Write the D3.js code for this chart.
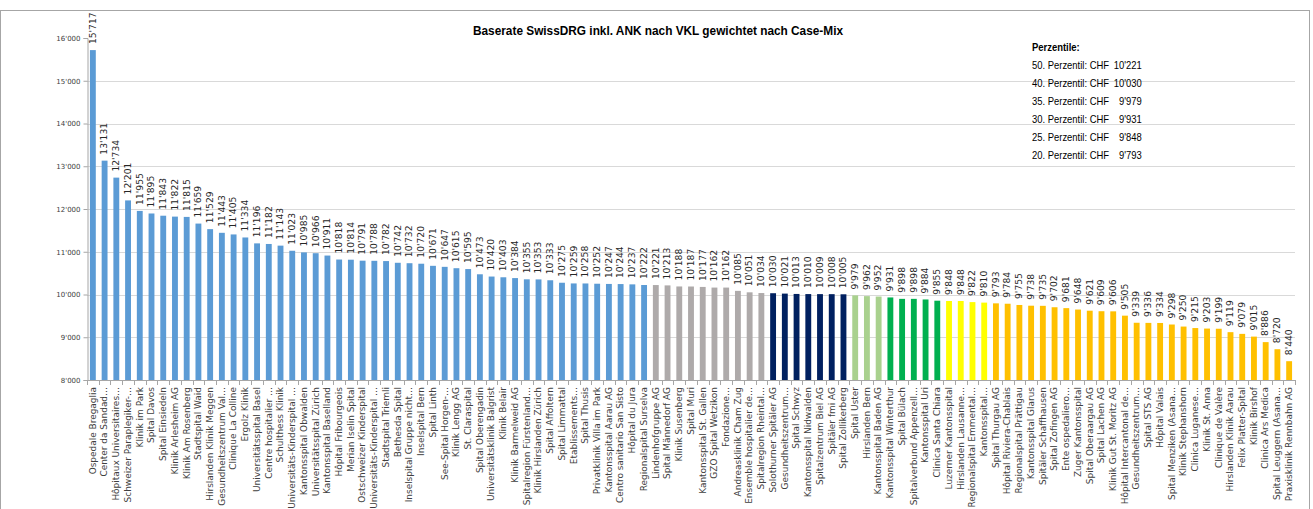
<!DOCTYPE html>
<html>
<head>
  <meta charset="utf-8">
  <script src="https://d3js.org/d3.v7.min.js"></script>
  <style>
    body { margin: 0; background: #fff; }
  </style>
</head>
<body>
  <div id="my_dataviz"></div>
  <script>

    // hospitals in chart order (labels as truncated in the original)
    var hospitals = [
      "Ospedale Bregaglia", "Center da Sandad…", "Hôpitaux Universitaires…", "Schweizer Paraplegiker-…",
      "Klinik im Park", "Spital Davos", "Spital Einsiedeln", "Klinik Arlesheim AG", "Klinik Am Rosenberg",
      "Stadtspital Waid", "Hirslanden Klinik Meggen", "Gesundheitszentrum Val…", "Clinique La Colline",
      "Ergolz Klinik", "Universitätsspital Basel", "Centre hospitalier …", "Schulthess Klinik",
      "Universitäts-Kinderspital …", "Kantonsspital Obwalden", "Universitätsspital Zürich",
      "Kantonsspital Baselland", "Hôpital Fribourgeois", "Merian Iselin Spital", "Ostschweizer Kinderspital",
      "Universitäts-Kinderspital …", "Stadtspital Triemli", "Bethesda Spital", "Inselspital Gruppe nicht…",
      "Inselspital Bern", "Spital Linth", "See-Spital Horgen-…", "Klinik Lengg AG", "St. Claraspital",
      "Spital Oberengadin", "Universitätsklinik Balgrist", "Klinik Belair", "Klinik Barmelweid AG",
      "Spitalregion Fürstenland…", "Klinik Hirslanden Zürich", "Spital Affoltern", "Spital Limmattal",
      "Etablissements…", "Spital Thusis", "Privatklinik Villa im Park", "Kantonsspital Aarau AG",
      "Centro sanitario San Sisto", "Hôpital du Jura", "Regionalspital Surselva", "Lindenhofgruppe AG",
      "Spital Männedorf AG", "Klinik Susenberg", "Spital Muri", "Kantonsspital St. Gallen",
      "GZO Spital Wetzikon", "Fondazione…", "Andreasklinik Cham Zug", "Ensemble hospitalier de…",
      "Spitalregion Rheintal…", "Solothurner Spitäler AG", "Gesundheitszentrum…", "Spital Schwyz",
      "Kantonsspital Nidwalden", "Spitalzentrum Biel AG", "Spitäler fmi AG", "Spital Zollikerberg",
      "Spital Uster", "Hirslanden Bern", "Kantonsspital Baden AG", "Kantonsspital Winterthur",
      "Spital Bülach", "Spitalverbund Appenzell…", "Kantonsspital Uri", "Clinica Santa Chiara",
      "Luzerner Kantonsspital", "Hirslanden Lausanne…", "Regionalspital Emmental…", "Kantonsspital…",
      "Spital Thurgau AG", "Hôpital Riviera-Chablais", "Regionalspital Prättigau", "Kantonsspital Glarus",
      "Spitäler Schaffhausen", "Spital Zofingen AG", "Ente ospedaliero…", "Zuger Kantonsspital",
      "Spital Oberaargau AG", "Spital Lachen AG", "Klinik Gut St. Moritz AG", "Hôpital Intercantonal de…",
      "Gesundheitszentrum…", "Spital STS AG", "Hôpital Valais", "Spital Menziken (Asana…",
      "Klinik Stephanshorn", "Clinica Luganese…", "Klinik St. Anna", "Clinique de Valère",
      "Hirslanden Klinik Aarau", "Felix Platter-Spital", "Klinik Birshof", "Clinica Ars Medica",
      "Spital Leuggern (Asana…", "Praxisklinik Rennbahn AG"
    ];

    // baserate per hospital (CHF)
    var baserates = [
      15717, 13131, 12734, 12201, 11955, 11895, 11843, 11822, 11815,
      11659, 11529, 11443, 11405, 11334, 11196, 11182, 11143, 11023,
      10985, 10966, 10911, 10818, 10814, 10791, 10788, 10782, 10742, 10732,
      10720, 10671, 10647, 10615, 10595, 10473, 10420, 10403, 10384,
      10355, 10353, 10333, 10275, 10259, 10258, 10252, 10247, 10244, 10237, 10222,
      10221, 10213, 10188, 10187, 10177, 10162, 10162, 10085, 10051, 10034,
      10030, 10021, 10013, 10010, 10009, 10008, 10005,
      9979, 9962, 9952,
      9931, 9898, 9898, 9884, 9855,
      9848, 9848, 9822, 9810,
      9793, 9784, 9755, 9738, 9735, 9702, 9681, 9648, 9621, 9609, 9606, 9505,
      9339, 9336, 9334, 9298, 9250, 9215, 9203, 9199, 9119, 9079, 9015, 8886, 8720, 8440
    ];

    // percentiles shown in the box (and used for bar colours)
    var percentileNames = ["50. Perzentil", "40. Perzentil", "35. Perzentil", "30. Perzentil", "25. Perzentil", "20. Perzentil"];
    var percentileValues = [10221, 10030, 9979, 9931, 9848, 9793];

    var yTicks = [8000, 9000, 10000, 11000, 12000, 13000, 14000, 15000, 16000];

    // one colour per percentile band, from above 50th down to below 20th
    var bandColors = ["#5B9BD5", "#AEAAAA", "#002060", "#A9D18E", "#00B050", "#FFFF00", "#FFC000"];

    function band(v) {
      var i = 0;
      while (i < percentileValues.length && v <= percentileValues[i]) i++;
      return i;
    }

    var fmt = d3.formatLocale({ decimal: ".", thousands: "'", grouping: [3], currency: ["", ""] }).format(",d");

    var W = 1313, H = 509;
    var plotLeft = 87, plotRight = 1295, plotTop = 38, plotBottom = 380;

    var svg = d3.select("#my_dataviz")
      .append("svg")
      .attr("width", W)
      .attr("height", H);

    // chart frame
    svg.append("rect")
      .attr("x", 0.5).attr("y", 10.5)
      .attr("width", 1309).attr("height", 520)
      .attr("fill", "none")
      .attr("stroke", "#A6A6A6");

    var idx = d3.range(hospitals.length);

    var x = d3.scaleBand()
      .domain(idx)
      .range([plotLeft, plotRight])
      .paddingInner(0.5)
      .paddingOuter(0.25);

    var y = d3.scaleLinear()
      .domain([8000, 16000])
      .range([plotBottom, plotTop]);

    // gridlines
    svg.append("g")
      .selectAll("line")
      .data(yTicks.filter(function (t) { return t > 8000 && t < 16000; }))
      .enter()
      .append("line")
      .attr("x1", plotLeft).attr("x2", plotRight)
      .attr("y1", function (d) { return Math.round(y(d)) + 0.5; })
      .attr("y2", function (d) { return Math.round(y(d)) + 0.5; })
      .attr("stroke", "#D9D9D9");

    // Y axis
    var yAxis = svg.append("g")
      .attr("transform", "translate(" + (plotLeft + 0.5) + ",0)")
      .call(d3.axisLeft(y).tickValues(yTicks).tickFormat(fmt).tickSize(4).tickPadding(3));
    yAxis.select(".domain").attr("stroke", "#A6A6A6");
    yAxis.selectAll(".tick line").attr("stroke", "#A6A6A6");
    yAxis.selectAll("text")
      .style("font-family", "DejaVu Sans, sans-serif")
      .style("font-size", "7px")
      .attr("fill", "#404040");

    // bars
    svg.append("g")
      .selectAll("rect")
      .data(idx)
      .enter()
      .append("rect")
      .attr("x", function (i) { return x(i); })
      .attr("width", x.bandwidth())
      .attr("y", function (i) { return y(baserates[i]); })
      .attr("height", function (i) { return y(8000) - y(baserates[i]); })
      .attr("fill", function (i) { return bandColors[band(baserates[i])]; });

    // X axis line and category separators
    svg.append("line")
      .attr("x1", plotLeft).attr("x2", plotRight)
      .attr("y1", plotBottom + 0.5).attr("y2", plotBottom + 0.5)
      .attr("stroke", "#A6A6A6");
    svg.append("g")
      .selectAll("line")
      .data(idx.concat([hospitals.length]))
      .enter()
      .append("line")
      .attr("x1", function (i) { return Math.round(plotLeft + i * x.step()) + 0.5; })
      .attr("x2", function (i) { return Math.round(plotLeft + i * x.step()) + 0.5; })
      .attr("y1", plotBottom).attr("y2", plotBottom + 5)
      .attr("stroke", "#A6A6A6");

    // value labels above the bars
    svg.append("g")
      .selectAll("text")
      .data(idx)
      .enter()
      .append("text")
      .attr("transform", function (i) {
        return "translate(" + (x(i) + x.bandwidth() / 2) + "," + (y(baserates[i]) - 6) + ") rotate(-90) scale(1.15,1)";
      })
      .attr("dy", "0.35em")
      .style("font-family", "DejaVu Sans, sans-serif")
      .style("font-size", "8px")
      .attr("fill", "#262626")
      .text(function (i) { return fmt(baserates[i]); });

    // category labels
    svg.append("g")
      .selectAll("text")
      .data(idx)
      .enter()
      .append("text")
      .attr("transform", function (i) {
        return "translate(" + (x(i) + x.bandwidth() / 2) + "," + (plotBottom + 7) + ") rotate(-90) scale(1.12,1)";
      })
      .attr("dy", "0.35em")
      .attr("text-anchor", "end")
      .style("font-family", "DejaVu Sans, sans-serif")
      .style("font-size", "8px")
      .attr("fill", "#404040")
      .text(function (i) { return hospitals[i]; });

    // title
    svg.append("text")
      .attr("x", 658)
      .attr("y", 35)
      .attr("text-anchor", "middle")
      .attr("textLength", 370)
      .attr("lengthAdjust", "spacingAndGlyphs")
      .style("font-family", "Liberation Sans, Arial, sans-serif")
      .style("font-weight", "bold")
      .style("font-size", "13px")
      .text("Baserate SwissDRG inkl. ANK nach VKL gewichtet nach Case-Mix");

    // percentile box
    var box = svg.append("g")
      .attr("transform", "translate(1032,0) scale(0.9,1)")
      .style("font-family", "Liberation Sans, Arial, sans-serif")
      .style("font-size", "10.5px");

    box.append("text")
      .attr("x", 0).attr("y", 51)
      .style("font-weight", "bold")
      .text("Perzentile:");

    box.selectAll("text.pname")
      .data(percentileNames)
      .enter()
      .append("text")
      .attr("class", "pname")
      .attr("x", 0)
      .attr("y", function (d, i) { return 69 + i * 18; })
      .text(function (d) { return d + ": CHF"; });

    box.selectAll("text.pval")
      .data(percentileValues)
      .enter()
      .append("text")
      .attr("class", "pval")
      .attr("x", 122)
      .attr("y", function (d, i) { return 69 + i * 18; })
      .attr("text-anchor", "end")
      .text(function (d) { return fmt(d); });

  </script>
</body>
</html>
